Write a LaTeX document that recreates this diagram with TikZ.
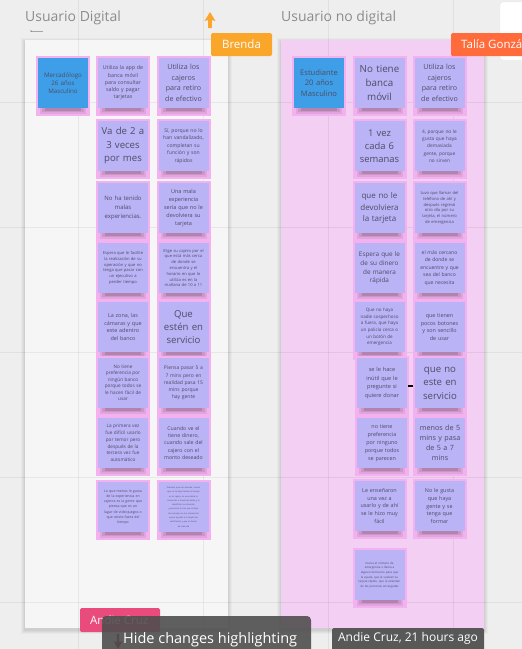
\documentclass[tikz,border=0pt]{standalone}
\usepackage{fontspec}
\setmainfont{Open Sans}

\definecolor{bg}{HTML}{EEEEEE}
\definecolor{boardL}{HTML}{F6F6F6}
\definecolor{boardR}{HTML}{F3CFF3}
\definecolor{hlpink}{HTML}{F3B2EF}
\definecolor{lav}{HTML}{BAB3F6}
\definecolor{skyblue}{HTML}{3E9FE8}
\definecolor{ink}{HTML}{4E4C64}
\definecolor{titlegray}{HTML}{8C8C8C}
\definecolor{brenda}{HTML}{F9A62B}
\definecolor{talia}{HTML}{FF6B3A}
\definecolor{andie}{HTML}{E84B7C}
\definecolor{cursorred}{HTML}{7B1A3A}
\definecolor{toolbar}{HTML}{4F4F4F}

% one sticky note: highlight frame, soft shadow, then the note itself
% #1 fill, #2 name, #3 x, #4 y, #5 node options, #6 text
\newcommand\postit[6][lav]{%
  \fill[hlpink] (#3-27,#4-27) rectangle (#3+27,#4+33);
  \fill[black,opacity=.07] (#3-23,#4+20) rectangle (#3+23,#4+31);
  \fill[black,opacity=.09] (#3-21,#4+20) rectangle (#3+21,#4+29);
  \fill[black,opacity=.12] (#3-18,#4+20) rectangle (#3+18,#4+27.5);
  \node[sticky,fill=#1,#5] (#2) at (#3,#4) {#6};%
}

\begin{document}
\begin{tikzpicture}[x=1pt,y=-1pt,
  sticky/.style={rectangle,minimum width=50pt,minimum height=50pt,
    text width=44pt,inner sep=3pt,align=center,text=ink},
  fs/.style 2 args={font=\fontsize{#1}{#2}\selectfont},
  title/.style={anchor=west,inner sep=0,text=titlegray,font=\fontsize{14}{16}\selectfont},
  tag/.style={text=white,inner sep=0,font=\fontsize{11.5}{13}\selectfont},
  gridline/.style={black,opacity=.06,line width=1pt}]

\useasboundingbox (0,0) rectangle (522,649);
\clip (0,0) rectangle (522,649);
\fill[bg] (0,0) rectangle (522,649);

% panel in the top right corner
\fill[white,draw=black!8,rounded corners=3pt] (500,2) rectangle (540,60);

% boards with soft shadows
\foreach \i/\o in {4/.025,3/.03,2/.035,1/.04}{
  \fill[black,opacity=\o] (25-\i,40-\i+1.5) rectangle (228+\i,628+\i+1.5);
  \fill[black,opacity=\o] (281-\i,40-\i+1.5) rectangle (484+\i,628+\i+1.5);
}
\fill[boardL] (25,40) rectangle (228,628);
\fill[boardR] (281,40) rectangle (484,628);

% canvas grid
\foreach \gx in {78,203,328,453} \draw[gridline] (\gx,0) -- (\gx,649);
\foreach \gy in {102,227,352,477,602} \draw[gridline] (0,\gy) -- (522,\gy);

% titles
\node[title] (tL) at (25,17.5) {Usuario Digital};
\node[title] (tR) at (281,17.5) {Usuario no digital};
\coordinate (mk) at (31,31);
\draw[black!35,line width=.6pt] (mk) -- ++(12,0);
\fill[black!75] (mk) circle (.7pt);

% ---------- Usuario Digital ----------
\postit[skyblue]{L11}{63}{83}{fs={6.2}{8.3}}{Mercadólogo\\26 años\\Masculino}
\postit{L12}{123}{83}{fs={5.3}{7.3}}{Utiliza la app de\\banca móvil\\para consultar\\saldo y pagar\\tarjetas}
\postit{L13}{183.5}{83}{fs={7.1}{10.5}}{Utiliza los\\cajeros\\para retiro\\de efectivo}
\postit{L22}{123}{146}{fs={9.6}{13.5}}{Va de 2 a\\3 veces\\por mes}
\postit{L23}{183.5}{146}{fs={5.1}{7.4}}{Sí, porque no lo\\han vandalizado,\\completan su\\función y son\\rápidos}
\postit{L32}{123}{208}{fs={6}{8.7}}{No ha tenido\\malas\\experiencias.}
\postit{L33}{183.5}{208}{fs={5.5}{8}}{Una mala\\experiencia\\sería que no le\\devolviera su\\tarjeta}
\postit{L42}{123}{268}{fs={4.1}{5.8}}{Espera que le facilite\\la realización de su\\operación y que no\\tenga que pasar con\\un ejecutivo a\\perder tiempo}
\postit{L43}{183.5}{268}{fs={4.1}{5.8}}{Elige su cajero por el\\que está más cerca\\de donde se\\encuentra y el\\horario en que lo\\utiliza es en la\\mañana de 10 a 11}
\postit{L52}{123}{327}{fs={5.4}{7.6}}{La zona, las\\cámaras y que\\este adentro\\del banco}
\postit{L53}{183.5}{327}{fs={9.6}{13.3}}{Que\\estén en\\servicio}
\postit{L62}{123}{383}{fs={4.7}{6.5}}{No tiene\\preferencia por\\ningún banco\\porque todos se\\le hacen fácil de\\usar}
\postit{L63}{183.5}{383}{fs={5}{7.2}}{Piensa pasar 5 a\\7 mins pero en\\realidad pasa 15\\mins porque\\hay gente}
\postit{L72}{123}{443}{fs={4.7}{6.7}}{La primera vez\\fue difícil usarlo\\por temor pero\\después de la\\tercera vez fue\\automático}
\postit{L73}{183.5}{443}{fs={5.2}{7.3}}{Cuando ve el\\tiene dinero,\\cuando sale del\\cajero con el\\monto deseado}
\postit{L82}{123}{507}{fs={3.5}{5.3}}{Lo que menos le gusta\\de la experiencia en\\cajeros es la gente que\\piensa que es un\\lugar de videojuegos o\\que existe fuera del\\tiempo}
\postit{L83}{183.5}{507}{fs={2.1}{4.3}}{Grandes, que nos atiende, menos\\que no se haya tenido el tiempo\\en el cajero, no una alerta lo\\comentan a través del saldo y lo\\identifican su situación\\y personas en los que se fijan\\los consejos en sus momentos\\que le ayudan a la tarjeta de\\verificación y que el dinero\\de cada día}

% ---------- Usuario no digital ----------
\postit[skyblue]{R11}{319}{83}{fs={7.6}{10.3}}{Estudiante\\20 años\\Masculino}
\postit{R12}{379.5}{83}{fs={9.8}{14}}{No tiene\\banca\\móvil}
\postit{R13}{439.5}{83}{fs={7.1}{10.5}}{Utiliza los\\cajeros\\para retiro\\de efectivo}
\postit{R22}{379.5}{146}{fs={9.4}{13.3}}{1 vez\\cada 6\\semanas}
\postit{R23}{439.5}{146}{fs={4.8}{7.3}}{4, porque no le\\gusta que haya\\demasiada\\gente, porque\\no sirven}
\postit{R32}{379.5}{208}{fs={8}{11.6}}{que no le\\devolviera\\la tarjeta}
\postit{R33}{439.5}{208}{fs={4.1}{5.7}}{tuvo que llamar del\\teléfono de ahí y\\después regresó\\otro día por su\\tarjeta, el número\\de emergencia}
\postit{R42}{379.5}{268}{fs={6.4}{8.7}}{Espera que le\\de su dinero\\de manera\\rápida}
\postit{R43}{439.5}{268}{fs={5}{7.5}}{el más cercano\\de donde se\\encuentre y que\\sea del banco\\que necesita}
\postit{R52}{379.5}{327}{fs={4.5}{6.7}}{Que no haya\\nadie sospechoso\\a fuera, que haya\\un policía cerca o\\un botón de\\emergencia}
\postit{R53}{439.5}{327}{fs={5.4}{7.8}}{que tienen\\pocos botones\\y son sencillo\\de usar}
\postit{R62}{382}{383}{fs={5.6}{8.7}}{se le hace\\inútil que le\\pregunte si\\quiere donar}
\postit{R63}{440}{383}{fs={9.6}{13.5}}{que no\\este en\\servicio}
\postit{R72}{382}{443}{fs={5.4}{7.9}}{no tiene\\preferencia\\por ninguno\\porque todos\\se parecen}
\postit{R73}{440}{443}{fs={7.2}{10}}{menos de 5\\mins y pasa\\de 5 a 7\\mins}
\postit{R82}{379.5}{506}{fs={5.4}{7.9}}{Le enseñaron\\una vez a\\usarlo y de ahí\\se le hizo muy\\fácil}
\postit{R83}{439.5}{506}{fs={5.4}{7.9}}{No le gusta\\que haya\\gente y se\\tenga que\\formar}
\postit{R92}{379.5}{575}{fs={2.9}{4.6}}{marca al número de\\emergencia o llama a\\alguien del banco para que\\le ayude, que le vuelvan su\\tarjeta rápido, que le atiendan\\de las personas encargadas}

% short stroke beside the note
\coordinate (dash) at (408,386);
\draw[black,line width=1.4pt] (dash) -- ++(5,0);

% collaborator tags
\fill[brenda,rounded corners=1.5pt] (211,33) rectangle (272,56);
\node[tag] (brendaTag) at (241.5,44.5) {Brenda};
\fill[brenda] (210,12) -- (215.5,21) -- (211.8,20) -- (211.8,28) -- (208.2,28) -- (208.2,20) -- (204.5,21) -- cycle;

\fill[talia,rounded corners=1.5pt] (451,33) rectangle (540,56);
\node[tag,anchor=west] (taliaTag) at (461,44.5) {Talía González};

\fill[andie,rounded corners=1.5pt] (80,608) rectangle (160,632);
\node[tag,anchor=west] (andieTag) at (90,620) {Andie Cruz};
\fill[cursorred] (116.8,634) -- (119.2,634) -- (119.2,642) -- (122.3,641.3) -- (118,649) -- (113.7,641.3) -- (116.8,642) -- cycle;

% toolbar and tooltip
\fill[toolbar,opacity=.9,rounded corners=4pt] (102,616) rectangle (311,665);
\node[anchor=west,text=white,inner sep=0,font=\fontsize{14.5}{16}\selectfont] (hide) at (123,639.5) {Hide changes highlighting};

\fill[toolbar!95,rounded corners=1.5pt] (332,628) rectangle (484,652);
\node[text=white,inner sep=0,font=\fontsize{12}{14}\selectfont] (ago) at (408,638.5) {Andie Cruz, 21 hours ago};

\end{tikzpicture}
\end{document}
